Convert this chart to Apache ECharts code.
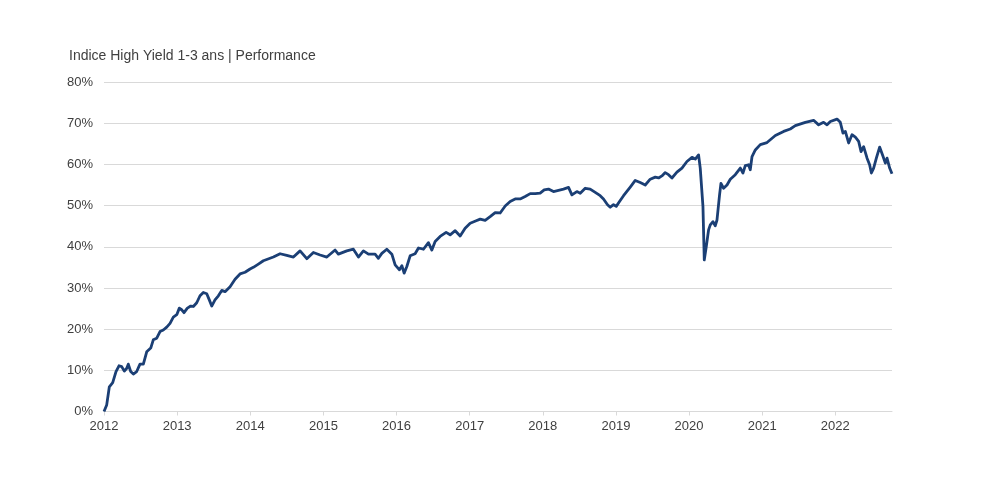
<!DOCTYPE html>
<html>
<head>
<meta charset="utf-8">
<script src="https://cdn.jsdelivr.net/npm/echarts@6/dist/echarts.min.js"></script>
<style>
html,body{margin:0;padding:0;background:#fff;}
#chart{width:1000px;height:500px;}
</style>
</head>
<body>
<div id="chart"></div>
<script>
// Decimal years (x) and performance in % (y)
const years = [
2012.000,2012.037,2012.073,2012.119,2012.164,2012.205,2012.242,2012.278,2012.311,2012.332,
2012.365,2012.401,2012.447,2012.492,2012.538,2012.584,2012.639,2012.674,2012.721,2012.766,
2012.811,2012.858,2012.903,2012.948,2012.995,2013.030,2013.063,2013.094,2013.140,2013.186,
2013.222,2013.268,2013.313,2013.358,2013.405,2013.440,2013.473,2013.518,2013.564,2013.610,
2013.655,2013.724,2013.792,2013.860,2013.929,2013.997,2014.042,2014.111,2014.179,2014.316,
2014.408,2014.499,2014.590,2014.681,2014.773,2014.863,2014.955,2015.047,2015.160,2015.205,
2015.320,2015.410,2015.479,2015.547,2015.616,2015.707,2015.752,2015.799,2015.867,2015.936,
2015.981,2016.040,2016.073,2016.104,2016.141,2016.186,2016.254,2016.300,2016.368,2016.436,
2016.483,2016.528,2016.596,2016.678,2016.733,2016.802,2016.870,2016.938,2017.007,2017.089,
2017.144,2017.212,2017.280,2017.349,2017.417,2017.486,2017.554,2017.622,2017.691,2017.759,
2017.828,2017.896,2017.964,2018.019,2018.078,2018.146,2018.215,2018.283,2018.352,2018.398,
2018.466,2018.512,2018.580,2018.648,2018.717,2018.785,2018.830,2018.885,2018.922,2018.967,
2019.004,2019.049,2019.104,2019.196,2019.264,2019.332,2019.401,2019.469,2019.538,2019.583,
2019.629,2019.674,2019.719,2019.766,2019.834,2019.903,2019.971,2020.040,2020.085,2020.130,
2020.153,2020.190,2020.208,2020.235,2020.267,2020.290,2020.327,2020.358,2020.382,2020.417,
2020.436,2020.472,2020.519,2020.564,2020.632,2020.701,2020.737,2020.769,2020.814,2020.837,
2020.861,2020.906,2020.974,2021.066,2021.180,2021.293,2021.384,2021.453,2021.590,2021.703,
2021.772,2021.840,2021.887,2021.932,2022.023,2022.068,2022.105,2022.137,2022.182,2022.228,
2022.274,2022.319,2022.352,2022.387,2022.434,2022.469,2022.493,2022.524,2022.561,2022.606,
2022.653,2022.684,2022.707,2022.743,2022.775
];
const performance = [
0.0,1.6,6.0,7.0,9.7,11.1,10.9,9.8,10.5,11.5,
9.7,9.1,9.7,11.5,11.5,14.5,15.4,17.4,17.8,19.4,
19.8,20.5,21.4,22.9,23.5,25.1,24.7,24.0,25.1,25.6,
25.5,26.4,28.1,28.9,28.6,27.1,25.6,27.1,28.1,29.4,
29.1,30.3,32.1,33.4,33.8,34.6,35.0,35.8,36.6,37.5,
38.3,37.9,37.5,39.0,37.1,38.6,38.0,37.5,39.2,38.2,
39.0,39.4,37.5,39.0,38.2,38.2,37.2,38.4,39.4,38.2,
35.6,34.4,35.4,33.6,35.2,37.8,38.3,39.7,39.4,41.0,
39.2,41.3,42.5,43.5,42.9,43.9,42.6,44.5,45.7,46.3,
46.7,46.4,47.3,48.3,48.2,49.9,51.0,51.6,51.6,52.2,
52.9,52.9,53.0,53.8,54.0,53.4,53.7,54.0,54.4,52.6,
53.4,53.0,54.2,54.0,53.2,52.4,51.6,50.2,49.6,50.2,
49.8,51.0,52.4,54.5,56.1,55.6,55.0,56.4,56.9,56.7,
57.2,58.0,57.5,56.7,58.1,59.1,60.7,61.7,61.3,62.3,
59.1,49.8,36.8,40.0,44.1,45.3,46.1,45.1,46.5,52.6,
55.4,54.2,55.0,56.4,57.5,59.1,57.9,59.7,59.9,58.7,
61.9,63.5,64.8,65.3,67.0,68.0,68.6,69.4,70.2,70.7,
69.6,70.2,69.6,70.4,71.0,70.2,67.6,68.0,65.2,67.2,
66.6,65.6,63.1,64.3,61.5,59.9,57.9,59.1,61.5,64.2,
61.9,60.3,61.5,59.1,57.7
];
const yearTicks = [2012,2013,2014,2015,2016,2017,2018,2019,2020,2021,2022];
const yTicks = [0,10,20,30,40,50,60,70,80];
const titleText = 'Indice High Yield 1-3 ans | Performance';

const data = years.map((y, i) => [y, performance[i]]);
const chart = echarts.init(document.getElementById('chart'), null, {renderer: 'canvas'});
chart.setOption({
  animation: false,
  backgroundColor: '#ffffff',
  title: {
    text: titleText,
    left: 64, top: 44,
    textStyle: {fontFamily: 'Liberation Sans, Arial, sans-serif', fontSize: 14, fontWeight: 'normal', color: '#404040'}
  },
  grid: {left: 104, right: 108, top: 82, bottom: 88.5, containLabel: false},
  xAxis: {
    type: 'value',
    min: yearTicks[0],
    max: years[years.length - 1],
    interval: 1,
    axisLine: {show: true, lineStyle: {color: '#d9d9d9', width: 1}},
    axisTick: {show: true, length: 4, lineStyle: {color: '#d9d9d9'}},
    splitLine: {show: false},
    axisLabel: {
      showMaxLabel: false,
      margin: 8,
      color: '#404040',
      fontFamily: 'Liberation Sans, Arial, sans-serif',
      fontSize: 13,
      formatter: v => (yearTicks.indexOf(Math.round(v)) >= 0 && Math.abs(v - Math.round(v)) < 1e-6) ? String(Math.round(v)) : ''
    }
  },
  yAxis: {
    type: 'value',
    min: yTicks[0], max: yTicks[yTicks.length - 1], interval: 10,
    axisLine: {show: false},
    axisTick: {show: false},
    splitLine: {show: true, lineStyle: {color: '#d9d9d9', width: 1}},
    axisLabel: {
      margin: 11,
      color: '#404040',
      fontFamily: 'Liberation Sans, Arial, sans-serif',
      fontSize: 13,
      formatter: '{value}%'
    }
  },
  series: [{
    type: 'line',
    data: data,
    showSymbol: false,
    smooth: false,
    lineStyle: {color: '#1b3f75', width: 2.8, join: 'round'},
    itemStyle: {color: '#1b3f75'}
  }]
});
</script>
</body>
</html>
